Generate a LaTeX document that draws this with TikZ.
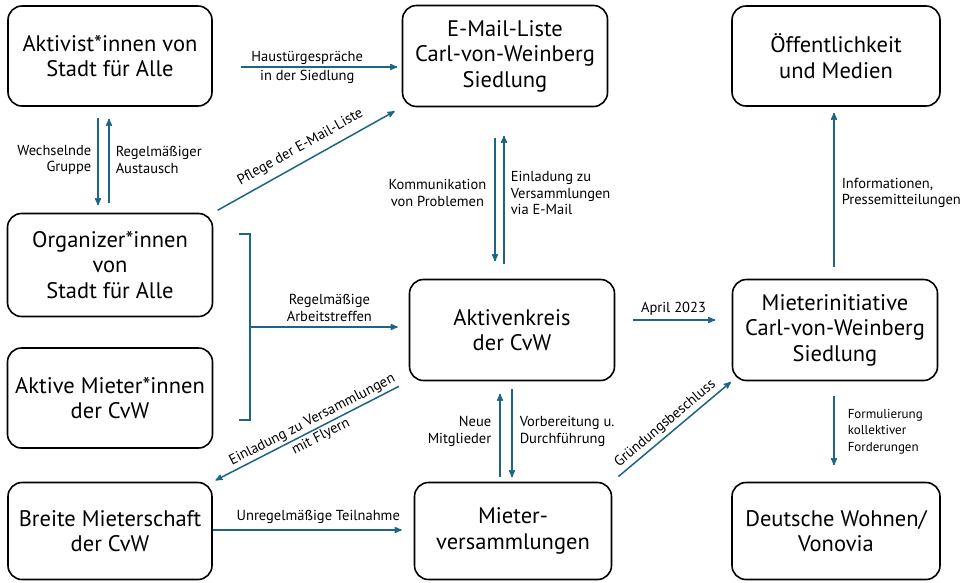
\documentclass[tikz,border=0pt]{standalone}
\usepackage{fontspec}
\setmainfont{PT Sans}
\usetikzlibrary{arrows}
\tikzset{>=stealth'}
\definecolor{pfeil}{HTML}{1D6584}

\begin{document}
\begin{tikzpicture}[x=1pt,y=-1pt,font=\fontsize{22.5}{25.5}\selectfont]

\tikzstyle{box}=[draw,rounded corners=14pt,line width=1.6pt,align=center,inner sep=0pt,
  minimum width=205pt,minimum height=101pt]
\tikzstyle{pf}=[->,draw=pfeil,line width=1.5pt]
\tikzstyle{lab}=[font=\fontsize{14.5}{16.5}\selectfont,align=center,inner sep=2pt]

\useasboundingbox (0,0) rectangle (980,582);

 \node[box,minimum width=204pt,minimum height=100pt] (aktivist) at (110,56) {Aktivist*innen von\\Stadt für Alle};
 \node[box] (email) at (505,56) {E-Mail-Liste\\Carl-von-Weinberg\\Siedlung};
 \node[box,minimum width=208pt,minimum height=100pt] (oeff) at (836,56) {Öffentlichkeit\\und Medien};
 \node[box,minimum height=103pt] (organizer) at (110,265) {Organizer*innen\\von\\Stadt für Alle};
 \node[box,minimum height=100pt] (aktive) at (110,398) {Aktive Mieter*innen\\der CvW};
 \node[box] (kreis) at (512,330) {Aktivenkreis\\der CvW};
 \node[box] (initiative) at (835,330) {Mieterinitiative\\Carl-von-Weinberg\\Siedlung};
 \node[box,minimum width=204pt,minimum height=97pt] (breite) at (110,531) {Breite Mieterschaft\\der CvW};
 \node[box,minimum width=197pt,minimum height=97pt] (versamml) at (513,531) {Mieter-\\versammlungen};
 \node[box,minimum width=208pt,minimum height=97pt] (dw) at (836,531) {Deutsche Wohnen/\\Vonovia};

 \draw[pf,shorten <=28pt,shorten >=4.5pt] ([yshift=-11pt]aktivist.east) -- ([yshift=-11pt]email.west)
   node[lab,midway,above] {Haustürgespräche} node[lab,midway,below] {in der Siedlung};

 \draw[pf,shorten <=11pt,shorten >=7.5pt] ([xshift=-12pt]aktivist.south) -- ([xshift=-12pt]organizer.north)
   node[lab,midway,left=4pt,align=right] {Wechselnde\\Gruppe};
 \draw[pf,shorten <=9.5pt,shorten >=12pt] ([xshift=-1pt]organizer.north) -- ([xshift=-1pt]aktivist.south)
   node[lab,midway,right=4pt,align=left] {Regelmäßiger\\Austausch};

 \draw[pf,shorten <=5pt,shorten >=8pt] (organizer.north east) -- (email.south west)
   node[lab,midway,sloped,above=5pt] {Pflege der E-Mail-Liste};

 \draw[pf,shorten <=30.5pt,shorten >=17.5pt] ([xshift=-17pt]kreis.north |- email.south) -- ([xshift=-17pt]kreis.north)
   node[lab,midway,left=6pt] {Kommunikation\\von Problemen};
 \draw[pf,shorten <=14.5pt,shorten >=28.5pt] ([xshift=-8pt]kreis.north) -- ([xshift=-8pt]kreis.north |- email.south)
   node[lab,midway,right=4pt,align=left] {Einladung zu\\Versammlungen\\via E-Mail};

 \coordinate (klammer) at (250,327);
 \draw[draw=pfeil,line width=1.5pt] (239,234) -- (250,234) -- (250,420) -- (239,420);
 \draw[pf,shorten >=11pt] (klammer) -- (kreis.west |- klammer)
   node[lab,midway,above=3pt] {Regelmäßige\\Arbeitstreffen};

 \draw[pf,shorten <=17.5pt,shorten >=16.5pt] ([yshift=10pt]kreis.east) -- ([yshift=10pt]initiative.west)
   node[lab,midway,above=2pt] {April 2023};

 \draw[pf,shorten <=11.5pt,shorten >=6pt] ([xshift=-1pt]initiative.north) -- ([xshift=-1pt]initiative.north |- oeff.south)
   node[lab,midway,right=5pt,align=left] {Informationen,\\Pressemitteilungen};

 \draw[pf,shorten <=11pt,shorten >=3pt] (kreis.south west) -- (breite.north east)
   node[lab,pos=0.47,sloped,above] {Einladung zu Versammlungen} node[lab,pos=0.47,sloped,below] {mit Flyern};

 \draw[pf,shorten <=4.5pt,shorten >=12.5pt] ([xshift=-13pt]versamml.north) -- ([xshift=-13pt]versamml.north |- kreis.south)
   node[lab,midway,left=6pt,align=right] {Neue\\Mitglieder};
 \draw[pf,shorten <=7.5pt,shorten >=4.5pt] ([xshift=-1pt]versamml.north |- kreis.south) -- ([xshift=-1pt]versamml.north)
   node[lab,midway,right=5pt,align=left] {Vorbereitung u.\\Durchführung};

 \draw[pf,shorten <=8pt,shorten >=1pt] (versamml.north east) -- (initiative.south west)
   node[lab,midway,sloped,above=1pt] {Gründungsbeschluss};

 \draw[pf,shorten <=14.5pt,shorten >=16.5pt] ([xshift=-1pt]initiative.south) -- ([xshift=-1pt]initiative.south |- dw.north)
   node[lab,midway,right=11pt,align=left,font=\fontsize{13}{16.5}\selectfont] {Formulierung\\kollektiver\\Forderungen};

 \draw[pf,shorten >=12pt] ([yshift=1pt]breite.east) -- ([yshift=1pt]breite.east -| versamml.west)
   node[lab,midway,above=4pt,xshift=5pt] {Unregelmäßige Teilnahme};

\end{tikzpicture}
\end{document}
